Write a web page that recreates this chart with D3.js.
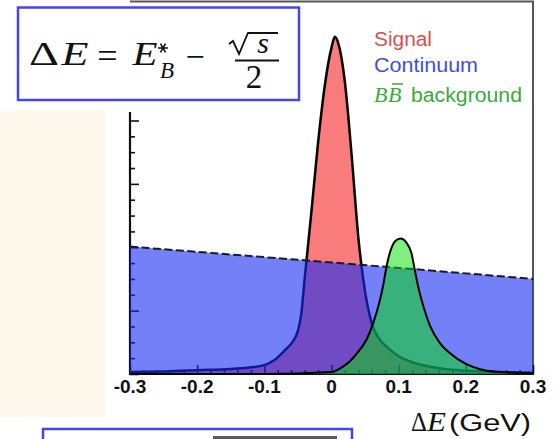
<!DOCTYPE html>
<html>
<head>
<meta charset="utf-8">
<script src="https://cdn.jsdelivr.net/npm/d3@7"></script>
<style>
  html, body { margin: 0; padding: 0; background: #fff; }
  svg { display: block; }
</style>
</head>
<body>
<div id="canvas"></div>
<script>
// x in GeV, heights in units of one major y tick
const xTicks = [-0.3, -0.2, -0.1, 0, 0.1, 0.2, 0.3];
const xTickLabels = ["-0.3", "-0.2", "-0.1", "0", "0.1", "0.2", "0.3"];
const yTicks = [0, 1, 2, 3, 4];

const signal = [
  [-0.3, 0.03], [-0.25, 0.04], [-0.2, 0.06], [-0.15, 0.08], [-0.125, 0.1],
  [-0.1, 0.14], [-0.085, 0.22], [-0.07, 0.37], [-0.06, 0.48], [-0.05, 0.68],
  [-0.045, 0.95], [-0.04, 1.5], [-0.03, 2.55], [-0.02, 3.65], [-0.01, 4.55],
  [0, 5.15], [0.005, 5.32], [0.01, 5.22], [0.02, 4.6], [0.03, 3.45],
  [0.04, 2.15], [0.05, 1.3], [0.06, 0.8], [0.07, 0.57], [0.08, 0.45],
  [0.1, 0.28], [0.125, 0.17], [0.15, 0.11], [0.175, 0.07], [0.2, 0.05],
  [0.25, 0.03], [0.3, 0.02]
];

const continuum = [[-0.3, 2.01], [0, 1.76], [0.3, 1.5]];

const bbBackground = [
  [-0.3, 0], [-0.1, 0], [0, 0.03], [0.013, 0.09], [0.0275, 0.2],
  [0.0375, 0.32], [0.052, 0.54], [0.062, 0.8], [0.071, 1.12], [0.077, 1.4],
  [0.082, 1.7], [0.088, 1.95], [0.095, 2.1], [0.103, 2.14], [0.111, 2.08],
  [0.119, 1.91], [0.124, 1.64], [0.129, 1.38], [0.137, 1.06], [0.147, 0.75],
  [0.162, 0.48], [0.176, 0.33], [0.2, 0.16], [0.22, 0.08], [0.25, 0.03],
  [0.3, 0.01]
];

const legendNames = ["Signal", "Continuum", "background"];
const legendColors = ["#d9504f", "#3e4fe0", "#3aaa3a"];

const width = 556;
const height = 439;

const svg = d3.select("#canvas").append("svg")
  .attr("width", width)
  .attr("height", height);

// slide background
svg.append("rect").attr("width", width).attr("height", height).attr("fill", "#fff");
svg.append("rect").attr("x", 0).attr("y", 110).attr("width", 106).attr("height", 307)
  .attr("fill", "#fdf8eb");

const x = d3.scaleLinear().domain([-0.3, 0.3]).range([130, 533]);
const y = d3.scaleLinear().domain([0, 5.87]).range([374, 2]);

const area = d3.area()
  .x(d => x(d[0]))
  .y0(y(0))
  .y1(d => y(d[1]))
  .curve(d3.curveMonotoneX);

const line = d3.line()
  .x(d => x(d[0]))
  .y(d => y(d[1]))
  .curve(d3.curveMonotoneX);

// frame top / right
svg.append("path")
  .attr("d", `M${x(-0.3)},1.5H${x(0.3)}V${y(0)}`)
  .attr("fill", "none")
  .attr("stroke", "#555")
  .attr("stroke-width", 2);

// signal
svg.append("path").datum(signal).attr("d", area).attr("fill", "#f97b7b");
svg.append("path").datum(signal).attr("d", line)
  .attr("fill", "none").attr("stroke", "#000").attr("stroke-width", 2.5);

// axes (drawn under the continuum, as in the picture)
const xMinor = x.ticks(30).filter(v => xTicks.indexOf(+v.toFixed(2)) < 0);
const gx = svg.append("g").attr("transform", `translate(0,${y(0)})`);
gx.call(d3.axisBottom(x).tickValues(xMinor).tickSize(-4).tickFormat("").tickSizeOuter(0));
gx.call(g => g.select(".domain").remove());
const gxMajor = svg.append("g").attr("transform", `translate(0,${y(0)})`);
gxMajor.call(d3.axisBottom(x).tickValues(xTicks).tickSize(-9).tickPadding(6)
  .tickFormat((d, i) => xTickLabels[i]).tickSizeOuter(0));
gxMajor.select(".domain").remove();
gxMajor.selectAll("text").remove();

const yMinor = d3.range(0.25, 4.01, 0.25).filter(v => v % 1 !== 0);
const gy = svg.append("g").attr("transform", `translate(${x(-0.3)},0)`);
gy.call(d3.axisLeft(y).tickValues(yMinor).tickSize(-5).tickFormat(""));
gy.select(".domain").remove();
const gyMajor = svg.append("g").attr("transform", `translate(${x(-0.3)},0)`);
gyMajor.call(d3.axisLeft(y).tickValues(yTicks).tickSize(-9).tickFormat(""));
gyMajor.select(".domain").remove();

svg.selectAll(".tick line").attr("stroke", "#111").attr("stroke-width", 1.6);

svg.append("path")
  .attr("d", `M${x(-0.3)},112V${y(0)}H${x(0.3) + 1}`)
  .attr("fill", "none").attr("stroke", "#111").attr("stroke-width", 2.2);

// continuum
svg.append("path").datum(continuum).attr("d", area).attr("fill", "rgba(22,43,243,0.6)");
svg.append("path").datum(continuum).attr("d", line)
  .attr("fill", "none").attr("stroke", "#1a1a2a").attr("stroke-width", 2)
  .attr("stroke-dasharray", "8,3.5");

// BB background
svg.append("path").datum(bbBackground).attr("d", area).attr("fill", "rgba(0,225,0,0.5)");
svg.append("path").datum(bbBackground).attr("d", line)
  .attr("fill", "none").attr("stroke", "#000").attr("stroke-width", 2);

// x tick labels
svg.append("g").selectAll("text").data(xTicks).join("text")
  .attr("x", d => x(d))
  .attr("y", 393)
  .attr("text-anchor", "middle")
  .attr("font-family", "'Liberation Sans', Arial, sans-serif")
  .attr("font-weight", "bold")
  .attr("font-size", 19)
  .attr("fill", "#111")
  .text((d, i) => xTickLabels[i]);

// axis title
const serif = "'Liberation Serif', 'Times New Roman', serif";
const sans = "'Liberation Sans', Arial, sans-serif";
svg.append("text").attr("x", 411).attr("y", 431).attr("font-family", serif)
  .attr("font-size", 27).attr("fill", "#111")
  .attr("textLength", 16).attr("lengthAdjust", "spacingAndGlyphs").text("Δ");
svg.append("text").attr("x", 427).attr("y", 431).attr("font-family", serif)
  .attr("font-style", "italic").attr("font-size", 27).attr("fill", "#111")
  .attr("textLength", 19).attr("lengthAdjust", "spacingAndGlyphs").text("E");
svg.append("text").attr("x", 449).attr("y", 431).attr("font-family", sans)
  .attr("font-size", 23).attr("fill", "#111")
  .attr("textLength", 82).attr("lengthAdjust", "spacingAndGlyphs").text("(GeV)");

// legend
const legendY = [45.5, 72];
svg.append("g").selectAll("text").data(legendNames.slice(0, 2)).join("text")
  .attr("x", 374)
  .attr("y", (d, i) => legendY[i])
  .attr("font-family", sans)
  .attr("font-size", 20)
  .attr("fill", (d, i) => legendColors[i])
  .attr("textLength", (d, i) => [58, 104][i])
  .attr("lengthAdjust", "spacingAndGlyphs")
  .text(d => d);
svg.append("text").attr("x", 374).attr("y", 102).attr("font-family", serif)
  .attr("font-style", "italic").attr("font-size", 22).attr("fill", legendColors[2]).text("B");
svg.append("text").attr("x", 388).attr("y", 102).attr("font-family", serif)
  .attr("font-style", "italic").attr("font-size", 22).attr("fill", legendColors[2]).text("B");
svg.append("line").attr("x1", 392).attr("x2", 403).attr("y1", 84).attr("y2", 84)
  .attr("stroke", legendColors[2]).attr("stroke-width", 1.5);
svg.append("text").attr("x", 411).attr("y", 102).attr("font-family", sans)
  .attr("font-size", 20).attr("fill", legendColors[2])
  .attr("textLength", 111).attr("lengthAdjust", "spacingAndGlyphs").text(legendNames[2]);

// formula box
svg.append("rect").attr("x", 8).attr("y", 4).attr("width", 300).attr("height", 106)
  .attr("fill", "#fff");
svg.append("rect").attr("x", 18).attr("y", 7.5).attr("width", 281).attr("height", 92.5)
  .attr("fill", "#fff").attr("stroke", "#4646e8").attr("stroke-width", 2.5);

const fml = svg.append("g").attr("font-family", serif).attr("fill", "#111")
  .attr("text-anchor", "middle");
fml.append("text").attr("x", 44).attr("y", 65).attr("font-size", 34)
  .attr("textLength", 30).attr("lengthAdjust", "spacingAndGlyphs").text("Δ");
fml.append("text").attr("x", 75).attr("y", 65).attr("font-size", 34)
  .attr("font-style", "italic")
  .attr("textLength", 27).attr("lengthAdjust", "spacingAndGlyphs").text("E");
fml.append("text").attr("x", 107.5).attr("y", 68).attr("font-size", 36).text("=");
fml.append("text").attr("x", 145).attr("y", 65).attr("font-size", 34)
  .attr("font-style", "italic")
  .attr("textLength", 25).attr("lengthAdjust", "spacingAndGlyphs").text("E");
// superscript star drawn as strokes
const star = [0, 60, 120].map(a => {
  const r = 5, t = a * Math.PI / 180;
  return `M${163 - r * Math.cos(t)},${48 - r * Math.sin(t)}L${163 + r * Math.cos(t)},${48 + r * Math.sin(t)}`;
}).join("");
fml.append("path").attr("d", star).attr("stroke", "#111").attr("stroke-width", 1.6);
fml.append("text").attr("x", 167).attr("y", 78).attr("font-size", 23)
  .attr("font-style", "italic").text("B");
fml.append("text").attr("x", 195).attr("y", 68).attr("font-size", 34).text("−");
fml.append("path")
  .attr("d", "M229,44L233,41L239,54L248,33H278")
  .attr("fill", "none").attr("stroke", "#111").attr("stroke-width", 1.8)
  .attr("stroke-linejoin", "miter");
fml.append("text").attr("x", 263).attr("y", 53).attr("font-size", 30)
  .attr("font-style", "italic").text("s");
fml.append("line").attr("x1", 235).attr("x2", 279).attr("y1", 60.5).attr("y2", 60.5)
  .attr("stroke", "#111").attr("stroke-width", 1.8);
fml.append("text").attr("x", 254).attr("y", 88).attr("font-size", 33).text("2");

// next box, cut off at the bottom
svg.append("rect").attr("x", 43).attr("y", 429).attr("width", 309).attr("height", 30)
  .attr("fill", "#fff").attr("stroke", "#4646e8").attr("stroke-width", 2.5);
svg.append("rect").attr("x", 213).attr("y", 436).attr("width", 124).attr("height", 5)
  .attr("fill", "#5a5a5a");
</script>
</body>
</html>
